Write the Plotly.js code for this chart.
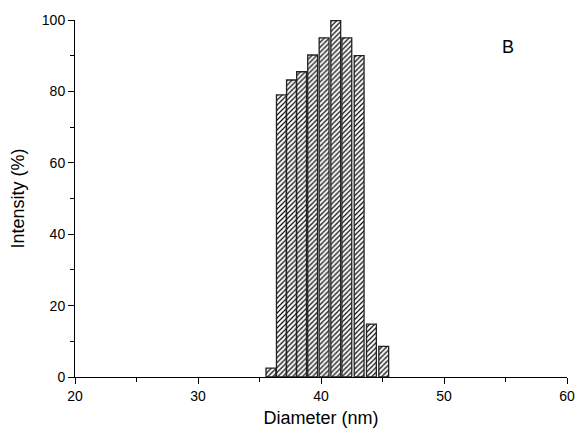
<!DOCTYPE html>
<html><head><meta charset="utf-8">
<script src="https://cdn.plot.ly/plotly-3.0.1.min.js"></script>
<style>html,body{margin:0;padding:0;background:#fff}#chart{width:577px;height:438px}</style>
</head><body><div id="chart"></div>
<script>
var diameters = [35.93, 36.78, 37.6, 38.42, 39.32, 40.25, 41.2, 42.1, 43.1, 44.1, 45.1];
var intensity = [2.5, 79, 83.2, 85.5, 90.2, 95, 99.8, 95, 90, 14.8, 8.6];
var xTicks = [20, 30, 40, 50, 60];
var yTicks = [0, 20, 40, 60, 80, 100];

var trace = {
  type: 'bar', x: diameters, y: intensity, width: 0.8,
  marker: {color: '#fff', line: {color: '#222', width: 1.3},
    pattern: {shape: '/', fgcolor: '#000', bgcolor: '#fff', size: 3.5, solidity: 0.35}},
  hoverinfo: 'none'
};
var fam = 'Liberation Sans, Arial, sans-serif';
var layout = {
  width: 577, height: 438,
  margin: {l: 75, r: 10, t: 20, b: 61},
  paper_bgcolor: '#fff', plot_bgcolor: '#fff',
  showlegend: false, font: {family: fam, color: '#000'},
  xaxis: {range: [20, 60], tickvals: xTicks, ticks: 'outside', ticklen: 6, tickcolor: '#000',
    showline: true, linecolor: '#000', linewidth: 1, showgrid: false, zeroline: false,
    tickfont: {size: 14, family: fam},
    minor: {dtick: 5, ticks: 'outside', ticklen: 4, tickcolor: '#000', showgrid: false},
    title: {text: 'Diameter (nm)', font: {size: 18, family: fam}, standoff: 8}},
  yaxis: {range: [0, 100], tickvals: yTicks, ticks: 'outside', ticklen: 6, tickcolor: '#000',
    showline: true, linecolor: '#000', linewidth: 1, showgrid: false, zeroline: false,
    tickfont: {size: 14, family: fam},
    minor: {dtick: 10, ticks: 'outside', ticklen: 4, tickcolor: '#000', showgrid: false},
    title: {text: 'Intensity (%)', font: {size: 18, family: fam}, standoff: 12}},
  annotations: [{text: 'B', xref: 'paper', yref: 'paper', x: 0.88, y: 0.924,
    xanchor: 'center', yanchor: 'middle', showarrow: false,
    font: {size: 18, family: fam}}]
};
Plotly.newPlot('chart', [trace], layout, {staticPlot: true});
</script></body></html>
